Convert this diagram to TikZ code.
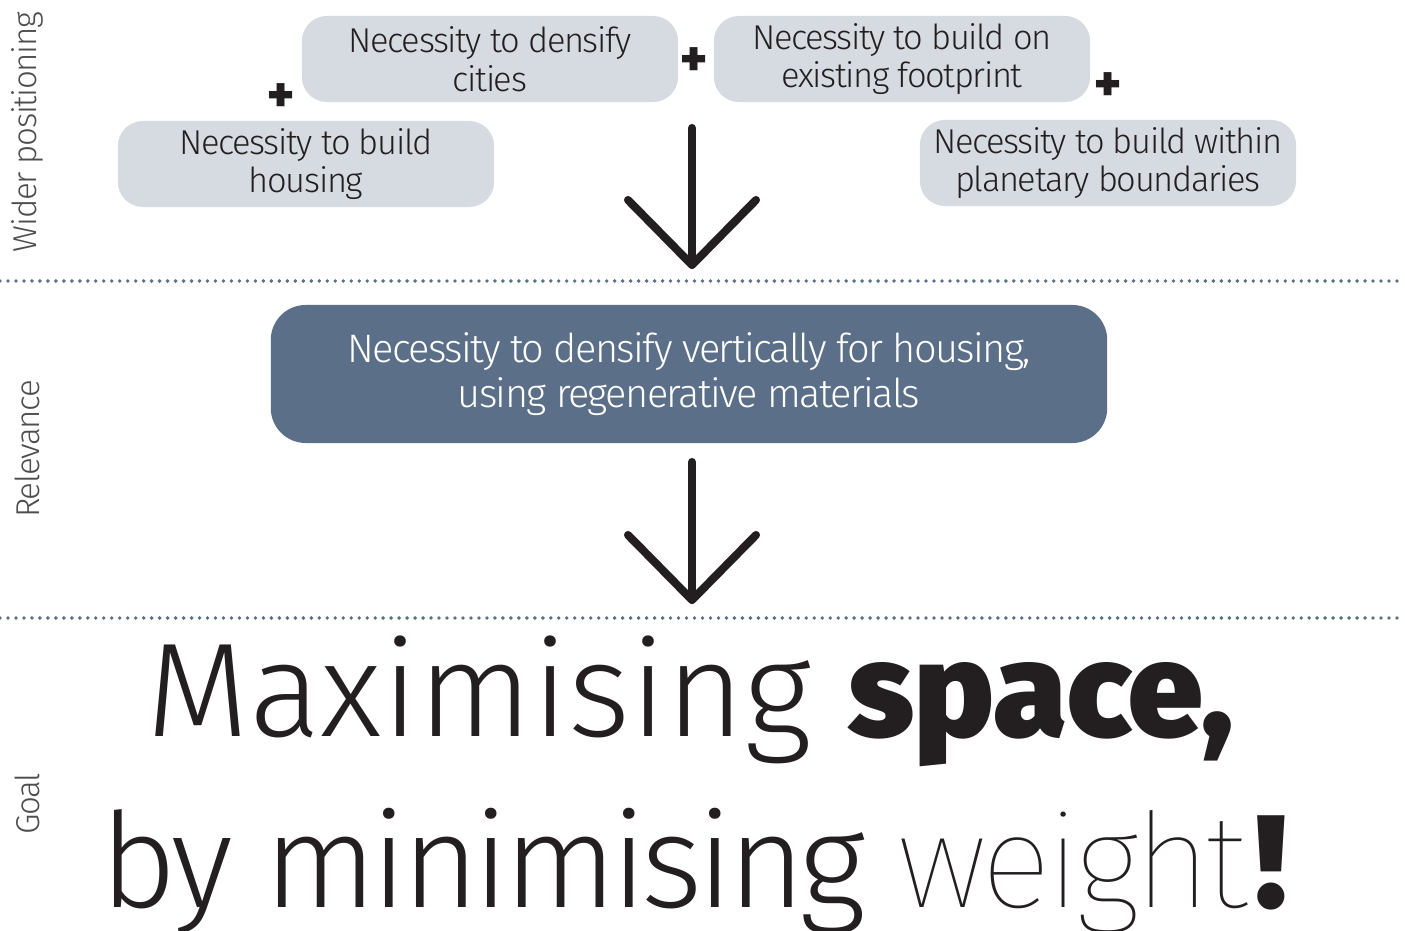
\documentclass[tikz,border=0pt]{standalone}
\usepackage{fontspec}
\setmainfont{Fira Sans}[UprightFont=* Light, BoldFont=* Black, LetterSpace=-4]
\newfontfamily\widefont{Fira Sans}[UprightFont=* Light, BoldFont=* Black]
\newfontfamily\thinfont{Fira Sans}[UprightFont=* Thin, LetterSpace=-4]
\definecolor{boxgray}{HTML}{D6DBE1}
\definecolor{boxblue}{HTML}{5B6F88}
\definecolor{inkblack}{HTML}{231F20}

\begin{document}
\begin{tikzpicture}[x=0.01cm,y=-0.01cm,
  lightbox/.style={fill=boxgray, rounded corners=0.25cm, minimum width=3.76cm,
    minimum height=0.86cm, inner sep=0pt, align=center, font=\fontsize{9.8}{11}\selectfont, text=inkblack},
  darkbox/.style={fill=boxblue, rounded corners=0.35cm, minimum width=8.36cm,
    minimum height=1.38cm, inner sep=0pt, align=center, font=\fontsize{11.3}{12.8}\selectfont, text=white},
  plus/.style={font=\fontsize{14}{14}\selectfont\bfseries, text=inkblack},
  sidelabel/.style={rotate=90, font=\fontsize{9.4}{9.4}\selectfont, text=inkblack!80},
  arrowline/.style={inkblack, line width=2.3pt, line cap=round, line join=round},
  sepline/.style={boxblue, line width=1.1pt, line cap=round, dash pattern=on 0pt off 2.27pt}]

  \useasboundingbox (0,0) rectangle (1405,931);

  \def\xmin{0}
  \def\xmax{1400}

  % side labels
  \node[sidelabel] (wider) at (27,132) {Wider positioning};
  \node[sidelabel] (relevance) at (27,449) {Relevance};
  \node[sidelabel] (goal) at (27,804) {Goal};

  % wider positioning boxes
  \node[lightbox] (cities) at (490,59) {Necessity to densify\\cities};
  \node[lightbox] (footprint) at (902,59) {Necessity to build on\\existing footprint};
  \node[lightbox] (housing) at (306,164) {Necessity to build\\housing};
  \node[lightbox] (planet) at (1108,163) {Necessity to build within\\planetary boundaries};

  \node[plus] (plusa) at (281,98) {+};
  \node[plus] (plusb) at (694,62) {+};
  \node[plus] (plusc) at (1108,87) {+};

  % separators
  \draw[sepline] (\xmin,281) -- (\xmax,281);
  \draw[sepline] (\xmin,618) -- (\xmax,618);

  % relevance
  \node[darkbox] (vertical) at (689,374) {Necessity to densify vertically for housing,\\using regenerative materials};

  % arrows
  \coordinate (topa) at (692,128);
  \coordinate (tipa) at (692,265);
  \coordinate (topb) at (692,462);
  \coordinate (tipb) at (692,600);
  \foreach \t/\h in {topa/tipa,topb/tipb}{
    \draw[arrowline] (\t) -- (\h);
    \draw[arrowline] (\h) ++(-64,-65) -- (\h) -- ++(64,-65);
  }

  % goal
  \node[anchor=base, inner sep=0pt, text=inkblack, font=\widefont\fontsize{38}{38}\selectfont] (maxline) at (690,737)
    {Maximising \textbf{space,}};
  \node[anchor=base, inner sep=0pt, text=inkblack, font=\fontsize{37.5}{37.5}\selectfont] (minline) at (691,908)
    {by minimising {\thinfont weight}\kern2pt\textbf{!}};
\end{tikzpicture}
\end{document}
